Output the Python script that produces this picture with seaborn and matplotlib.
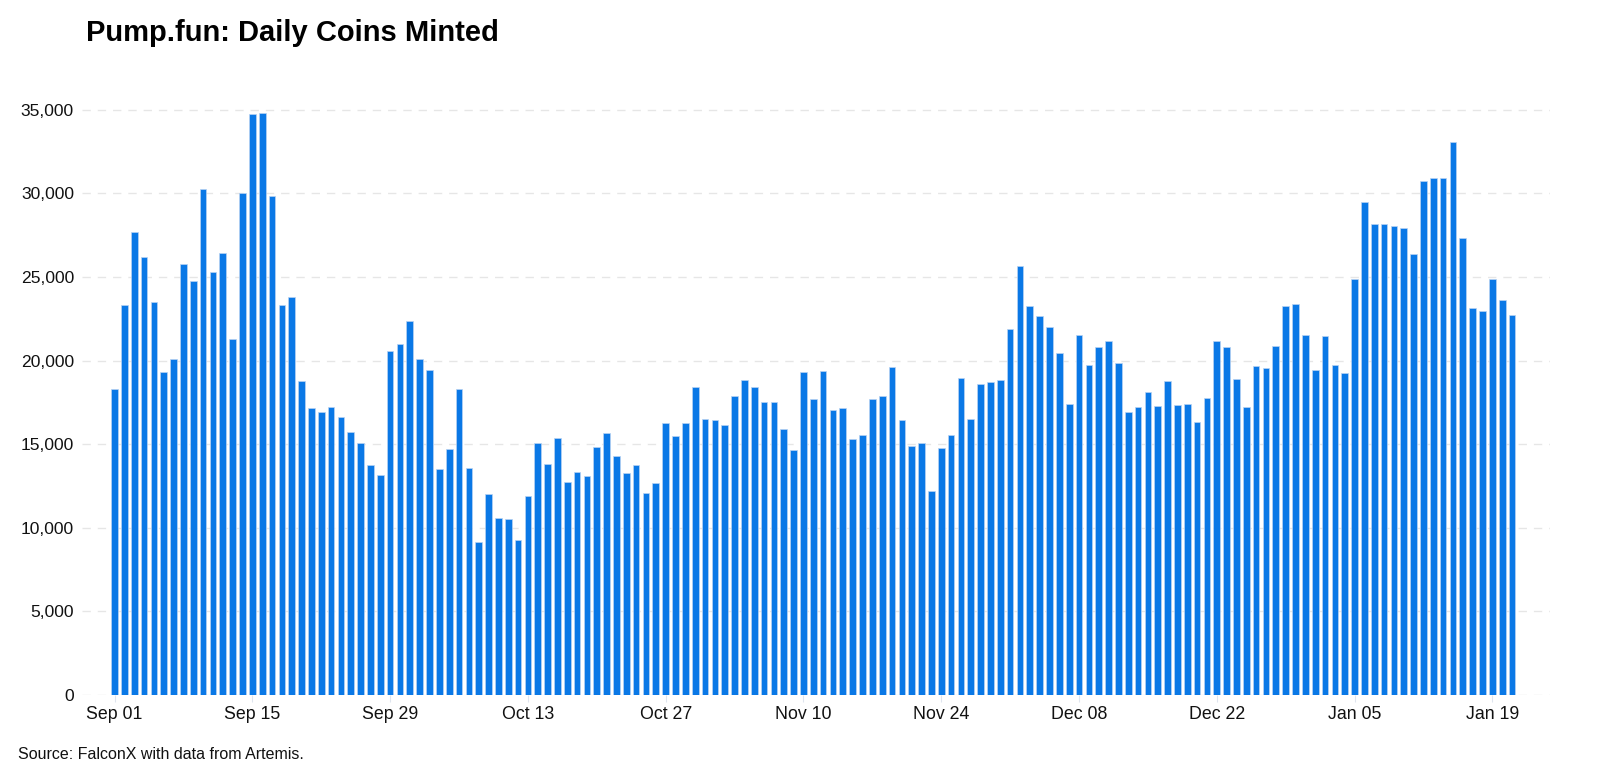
import pandas as pd
import seaborn as sns
import matplotlib
import matplotlib.pyplot as plt
from matplotlib.ticker import FuncFormatter

matplotlib.use("Agg")

# Daily coins minted, Sep 01 -> Jan 21
START_DATE = "2024-09-01"
COINS_MINTED = [
    18300, 23350, 27700, 26200, 23500, 19300, 20100, 25800, 24750, 30250,
    25300, 26450, 21300, 30050, 34750, 34800, 29850, 23350, 23800, 18800,
    17150, 16950, 17200, 16600, 15750, 15050, 13750, 13150, 20550, 21000,
    22400, 20100, 19450, 13500, 14700, 18300, 13600, 9150, 12050, 10600,
    10500, 9250, 11900, 15100, 13800, 15350, 12750, 13350, 13100, 14850,
    15650, 14300, 13250, 13750, 12100, 12700, 16300, 15500, 16300, 18400,
    16500, 16450, 16150, 17900, 18850, 18450, 17500, 17550, 15900, 14650,
    19350, 17700, 19400, 17050, 17150, 15300, 15550, 17700, 17900, 19600,
    16450, 14900, 15100, 12200, 14800, 15550, 18950, 16500, 18600, 18700,
    18850, 21900, 25650, 23250, 22700, 22000, 20450, 17400, 21550, 19750,
    20800, 21200, 19850, 16900, 17250, 18150, 17300, 18800, 17350, 17400,
    16350, 17750, 21200, 20800, 18900, 17200, 19700, 19550, 20900, 23250,
    23400, 21550, 19450, 21450, 19750, 19250, 24900, 29500, 28150, 28200,
    28050, 27950, 26400, 30750, 30950, 30900, 33050, 27350, 23150, 22950,
    24900, 23600, 22750,
]
TICK_EVERY = 14

BAR_COLOR = "#0A78E6"


def make_chart():
    dates = pd.date_range(START_DATE, periods=len(COINS_MINTED), freq="D")
    df = pd.DataFrame({"Date": dates.strftime("%Y-%m-%d"), "Coins": COINS_MINTED})

    sns.set_style("white")
    plt.rcParams["font.family"] = ["Liberation Sans", "DejaVu Sans"]

    fig = plt.figure(figsize=(16, 7.83), dpi=100)
    ax = fig.add_axes([0.051, 0.1124, 0.918, 0.7686])

    sns.barplot(data=df, x="Date", y="Coins", color=BAR_COLOR, width=0.68,
                edgecolor="#b9d3f3", linewidth=0.5, saturation=1, ax=ax)

    # x ticks every two weeks
    tick_pos = list(range(0, len(df), TICK_EVERY))
    ax.set_xticks(tick_pos)
    ax.set_xticklabels([dates[i].strftime("%b %d") for i in tick_pos], fontsize=12.8, color="#111111")
    ax.set_xlim(-3.35, 145.9)

    ax.set_ylim(0, 36000)
    ax.set_yticks(range(0, 35001, 5000))
    ax.yaxis.set_major_formatter(FuncFormatter(lambda v, _: f"{int(v):,}"))
    ax.tick_params(axis="y", labelsize=12.6, labelcolor="#111111", length=4, color="#dfe5ee", pad=1.5)
    ax.tick_params(axis="x", length=5, color="#dfe5ee", pad=3, bottom=True)

    ax.grid(axis="y", color="#e6e6e6", linestyle=(0, (6, 5)), linewidth=1)
    ax.grid(axis="x", visible=False)
    ax.set_axisbelow(True)
    for spine in ax.spines.values():
        spine.set_visible(False)
    ax.set_xlabel("")
    ax.set_ylabel("")

    fig.text(0.054, 0.958, "Pump.fun: Daily Coins Minted", fontsize=21, fontweight="bold",
             ha="left", va="center", color="#000000")
    fig.text(0.011, 0.036, "Source: FalconX with data from Artemis.", fontsize=11.5,
             ha="left", va="center", color="#111111")

    fig.savefig("out.png", dpi=100)
    plt.close(fig)


if __name__ == "__main__":
    make_chart()
